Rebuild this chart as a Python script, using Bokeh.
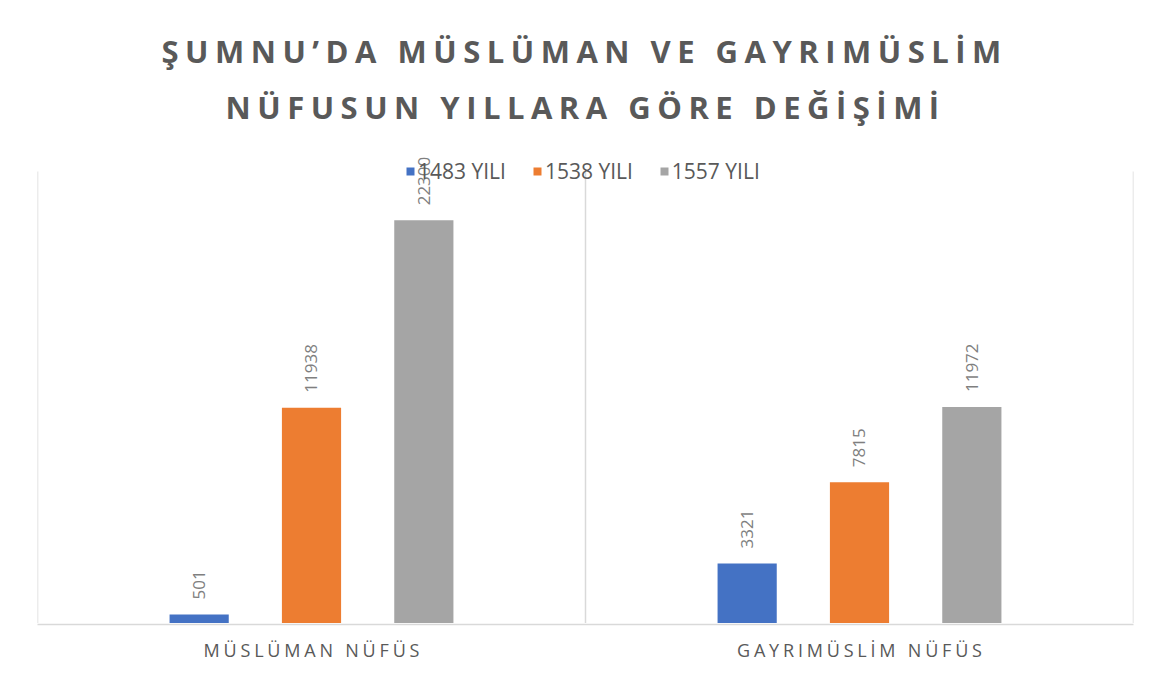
from math import pi
from bokeh.plotting import figure
from bokeh.models import (FactorRange, Range1d, LabelSet, ColumnDataSource,
                          Legend, LegendItem, FixedTicker, CustomJSTickFormatter)
from bokeh.transform import dodge
from bokeh.layouts import column
from bokeh.core.properties import value
from bokeh.embed import file_html
from bokeh.resources import INLINE

# ---- data ----
categories = ["MÜSLÜMAN NÜFÜS", "GAYRIMÜSLİM NÜFÜS"]
series_names = ["1483 YILI", "1538 YILI", "1557 YILI"]
values_1483 = [501, 3321]
values_1538 = [11938, 7815]
values_1557 = [22300, 11972]
title_lines = ["ŞUMNU’DA MÜSLÜMAN VE GAYRIMÜSLİM", "NÜFUSUN YILLARA GÖRE DEĞİŞİMİ"]
axis_max = 25000

colors = ["#4472C4", "#ED7D31", "#A5A5A5"]
FONT_NAME = "Open Sans"
FONT = value(FONT_NAME)
TEXT_COL = "#595959"
GRID_COL = "#d9d9d9"

W = 1152
FRAME_L, FRAME_R = 37, 1133     # page x of the plot area
TITLE_H = 140
PLOT_PX = 452                   # pixel height of the 0..axis_max value area
TOP_EXTRA = 31                  # room above the value area for the legend
MAIN_H = TOP_EXTRA + PLOT_PX
AXIS_H = 53
AXIS_LS = 3.8                   # letter spacing of category labels (px)

# ---- title strip (letter-spaced) ----
tp = figure(width=W, height=TITLE_H, x_range=Range1d(FRAME_L, FRAME_R),
            y_range=Range1d(0, TITLE_H),
            output_backend="svg", toolbar_location=None, title_location=None,
            min_border_left=FRAME_L, min_border_right=W - FRAME_R,
            min_border_top=0, min_border_bottom=0,
            x_axis_location=None, y_axis_location=None,
            styles={"letter-spacing": "6.5px"})
tp.grid.visible = False
tp.outline_line_color = None
tp.text(x=[161, 225], y=[TITLE_H - 50, TITLE_H - 106], text=title_lines, text_font=FONT,
        text_font_style="bold", text_font_size="31px", text_color=TEXT_COL,
        text_baseline="alphabetic", text_align="left")

# ---- main chart ----
src = ColumnDataSource(dict(
    cat=categories,
    v0=values_1483, v1=values_1538, v2=values_1557,
    t0=[str(v) for v in values_1483],
    t1=[str(v) for v in values_1538],
    t2=[str(v) for v in values_1557],
))

y_end = axis_max * (PLOT_PX + TOP_EXTRA) / PLOT_PX
x_range = FactorRange(factors=categories, range_padding=0)
p = figure(width=W, height=MAIN_H, x_range=x_range, y_range=Range1d(0, y_end),
           output_backend="svg", toolbar_location=None, title_location=None,
           min_border_left=FRAME_L, min_border_right=W - FRAME_R,
           min_border_top=0, min_border_bottom=0,
           x_axis_location=None, y_axis_location=None)
p.xgrid.visible = False
p.ygrid.visible = False
p.outline_line_color = None

n = len(categories)
p.segment(x0=list(range(n + 1)), y0=[0] * (n + 1), x1=list(range(n + 1)), y1=[axis_max] * (n + 1),
          line_color=GRID_COL, line_width=1.5)

offsets = [-0.205, 0.0, 0.205]
bar_w = 0.108
items = []
for i, (name, color, off) in enumerate(zip(series_names, colors, offsets)):
    r = p.vbar(x=dodge("cat", off, range=x_range), top=f"v{i}", width=bar_w, source=src,
               fill_color=color, line_color=None)
    items.append(LegendItem(label=name, renderers=[r]))
    p.add_layout(LabelSet(x=dodge("cat", off, range=x_range), y=f"v{i}", text=f"t{i}",
                          source=src, angle=pi / 2, text_align="left", text_baseline="middle",
                          y_offset=15, text_font=FONT, text_font_size="17px",
                          text_color="#7f7f7f"))

legend = Legend(items=items, orientation="horizontal", location=(368, PLOT_PX - 14),
                glyph_width=10, glyph_height=10, label_standoff=3, spacing=26,
                padding=0, margin=0, border_line_color=None, background_fill_alpha=0,
                label_text_font=FONT_NAME, label_text_font_size="21px",
                label_text_color=TEXT_COL, label_height=10)
p.add_layout(legend)

# ---- category axis strip (letter-spaced labels) ----
group_px = (FRAME_R - FRAME_L) / n
tick_pos = [i + 0.5 - (len(c) - 1) * AXIS_LS / 2 / group_px for i, c in enumerate(categories)]
bp = figure(width=W, height=AXIS_H, x_range=Range1d(0, n), y_range=Range1d(0, 1),
            output_backend="svg", toolbar_location=None, title_location=None,
            min_border_left=FRAME_L, min_border_right=W - FRAME_R,
            min_border_top=0, min_border_bottom=AXIS_H - 1,
            y_axis_location=None, styles={"letter-spacing": f"{AXIS_LS}px"})
bp.grid.visible = False
bp.outline_line_color = None
bax = bp.xaxis[0]
bax.ticker = FixedTicker(ticks=tick_pos, minor_ticks=[])
bax.formatter = CustomJSTickFormatter(args=dict(names=categories), code="return names[index];")
bax.axis_line_color = GRID_COL
bax.axis_line_width = 1.5
bax.major_tick_line_color = None
bax.minor_tick_line_color = None
bax.major_label_standoff = 7
bax.major_label_text_font = FONT_NAME
bax.major_label_text_font_size = "18px"
bax.major_label_text_color = TEXT_COL

layout = column(tp, p, bp, spacing=0)
open("out.html", "w").write(file_html(layout, INLINE))
